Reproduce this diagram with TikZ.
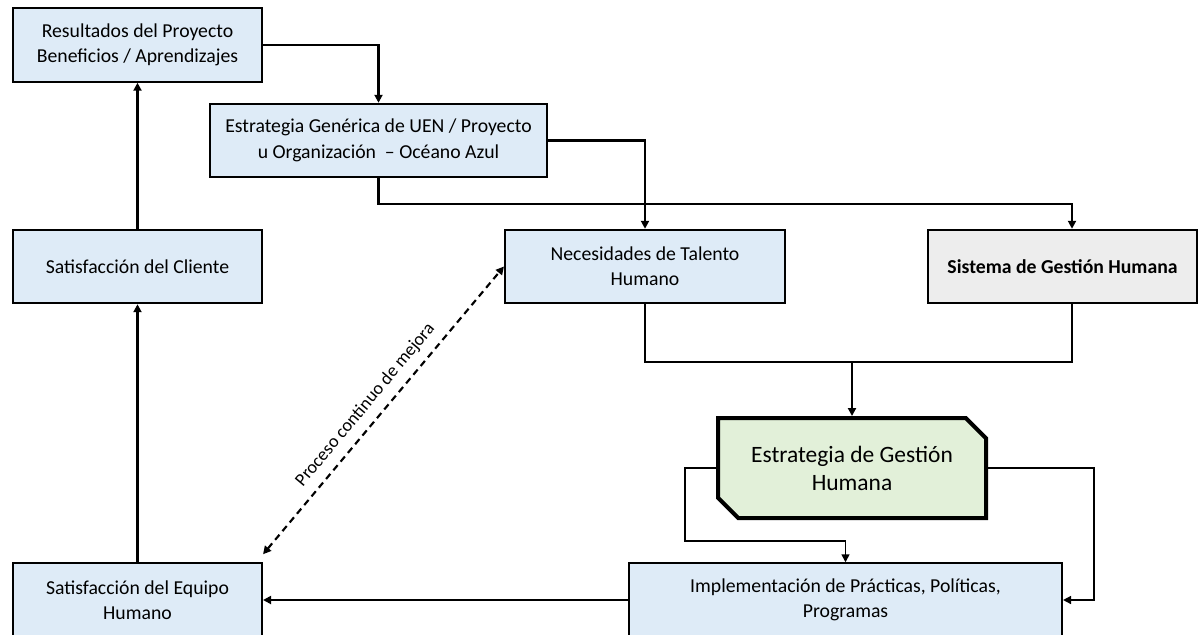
\documentclass[tikz,border=0pt]{standalone}
\usepackage{fontspec}
\setmainfont{Carlito}
\definecolor{ghblue}{HTML}{DEEBF7}
\definecolor{ghgreen}{HTML}{E2F0D9}
\definecolor{ghgray}{HTML}{EDEDED}
\usetikzlibrary{arrows.meta, positioning, shapes.misc, calc}

\begin{document}
\begin{tikzpicture}[x=0.75pt, y=-0.75pt,
    box/.style={draw, line width=1.6pt, fill=ghblue, align=center, inner sep=2pt,
                minimum height=55pt, font=\fontsize{14.8}{19}\selectfont},
    link/.style={-{Triangle[length=6pt,width=6pt]}, line width=1.6pt}
  ]
    \useasboundingbox (0,0) rectangle (1199,635);
    \clip (0,0) rectangle (1199,635);

    \node[box, minimum width=186.75pt] (res) at (137.5,45) {Resultados del Proyecto\\Beneficios / Aprendizajes};
    \node[box, minimum width=252.75pt] (egen) at (378.5,140.5) {Estrategia Genérica de UEN / Proyecto\\u Organización ~– Océano Azul};
    \node[box, minimum width=186.75pt] (cli) at (137.5,266.5) {Satisfacción del Cliente};
    \node[box, minimum width=210pt] (nec) at (645,266.5) {Necesidades de Talento\\Humano};
    \node[box, minimum width=201.75pt, fill=ghgray, font=\fontsize{14.8}{19}\selectfont\bfseries] (sis) at (1062.5,266.5) {Sistema de Gestión Humana};
    \node[box, chamfered rectangle, chamfered rectangle corners={north east, south west},
          chamfered rectangle xsep=12pt, minimum width=201pt, minimum height=75pt,
          line width=3pt, fill=ghgreen, font=\fontsize{17.6}{21}\selectfont] (gh) at (852,468) {Estrategia de Gestión\\Humana};
    \node[box, minimum width=324.75pt] (imp) at (845.5,600) {Implementación de Prácticas, Políticas,\\Programas};
    \node[box, minimum width=186.75pt] (eq) at (137.5,600) {Satisfacción del Equipo\\Humano};

    \draw[link] (res.east) -| (egen.north);
    \draw[link] (egen.east) -| (nec.north);
    \draw[link] (egen.south) -- ++(0,26) -| ($(sis.north west)!0.535!(sis.north east)$);
    \draw[line width=1.6pt] (nec.south) -- ++(0,58) -| ($(sis.south west)!0.535!(sis.south east)$);
    \coordinate (join) at (852,361);
    \draw[link] (join) -- (gh.north);
    \draw[link, line width=1.2pt] (gh.west) -- ++(-31,0) -- ++(0,73) -| (imp.north);
    \draw[link, line width=1.2pt] (gh.east) -- ++(106,0) |- (imp.east);
    \draw[link] (imp.west) -- (eq.east);
    \draw[link] (eq.north) -- (cli.south);
    \draw[link] (cli.north) -- (res.south);
    % dashed loop back
    \draw[{Triangle[length=6pt,width=6pt]}-{Triangle[length=6pt,width=6pt]}, line width=1.6pt,
          dash pattern=on 5pt off 3.5pt]
      ([yshift=6pt]eq.north east) -- node[sloped, above=3pt, pos=0.48, font=\fontsize{13.6}{15}\selectfont] {Proceso continuo de mejora} (nec.west);
  \end{tikzpicture}
\end{document}
